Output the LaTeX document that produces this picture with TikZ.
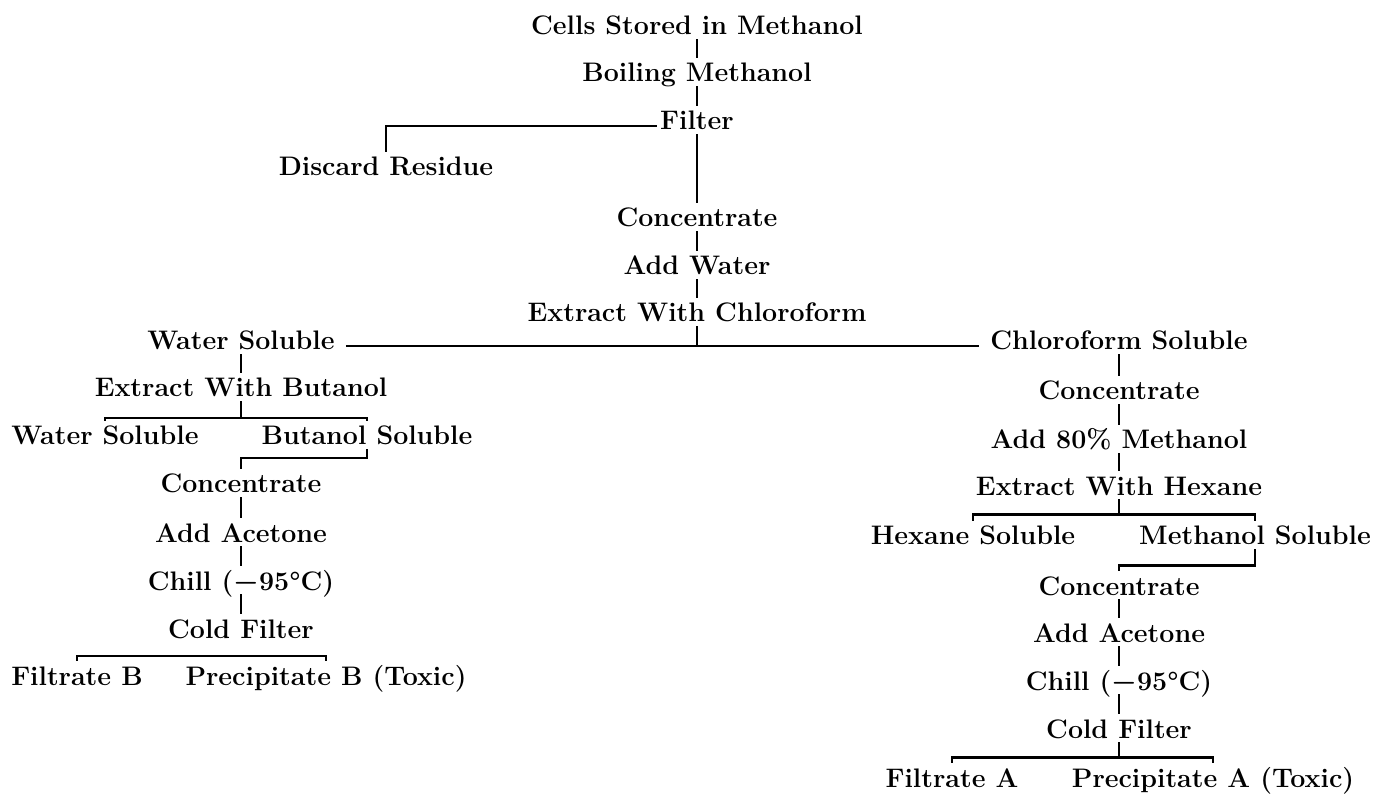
\documentclass[tikz,border=0pt]{standalone}
\usepackage{fontspec}
\begin{document}
\begin{tikzpicture}[x=0.5pt, y=-0.5pt,
    stage/.style={anchor=base, inner sep=0pt, inner xsep=1.5pt,
      text height=12pt, text depth=2pt,
      font=\fontsize{13.4}{15}\selectfont\bfseries},
    link/.style={line width=1.1pt}]
  \useasboundingbox (0,0) rectangle (1384,795);
  \def\chill{Chill ({\boldmath$-$}95\textdegree C)}

  % Main column
  \node[stage] (cells)  at (697,35)  {Cells Stored in Methanol};
  \node[stage] (boil)   at (697,82)  {Boiling Methanol};
  \node[stage] (filt)   at (697,130) {Filter};
  \node[stage] (disc)   at (386,176) {Discard Residue};
  \node[stage] (concM)  at (697,227) {Concentrate};
  \node[stage] (water)  at (697,275) {Add Water};
  \node[stage] (extC)   at (697,322) {Extract With Chloroform};

  % Water soluble branch
  \node[stage] (wsolA)  at (241,350) {Water Soluble};
  \node[stage] (extB)   at (241,397) {Extract With Butanol};
  \node[stage] (wsolB)  at (105,445) {Water Soluble};
  \node[stage] (bsol)   at (367,445) {Butanol Soluble};
  \node[stage] (concB)  at (241,493) {Concentrate};
  \node[stage] (aceB)   at (241,542) {Add Acetone};
  \node[stage] (chB)    at (241,590) {\chill};
  \node[stage] (cfB)    at (241,638) {Cold Filter};
  \node[stage] (filB)   at (77,685)  {Filtrate B};
  \node[stage] (preB)   at (326,685) {Precipitate B (Toxic)};

  % Chloroform soluble branch
  \node[stage] (csol)   at (1119,350) {Chloroform Soluble};
  \node[stage] (concA)  at (1119,400) {Concentrate};
  \node[stage] (meth)   at (1119,449) {Add 80\% Methanol};
  \node[stage] (extH)   at (1119,495) {Extract With Hexane};
  \node[stage] (hsol)   at (973,545)  {Hexane Soluble};
  \node[stage] (msol)   at (1255,545) {Methanol Soluble};
  \node[stage] (concA2) at (1119,595) {Concentrate};
  \node[stage] (aceA)   at (1119,642) {Add Acetone};
  \node[stage] (chA)    at (1119,690) {\chill};
  \node[stage] (cfA)    at (1119,738) {Cold Filter};
  \node[stage] (filA)   at (952,787)  {Filtrate A};
  \node[stage] (preA)   at (1213,787) {Precipitate A (Toxic)};

  % Main column links
  \draw[link] (cells.south) -- (boil.north);
  \draw[link] (boil.south) -- (filt.north);
  \draw[link] (filt.mid west) -| (disc.north);
  \draw[link] (filt.south) -- (concM.north);
  \draw[link] (concM.south) -- (water.north);
  \draw[link] (water.south) -- (extC.north);
  \draw[link, shorten <=4pt, shorten >=4pt] (wsolA.mid east) -- (csol.mid west);
  \draw[link] (extC.south) -- (extC.south |- csol.mid west);

  % Left links
  \draw[link] (wsolA.south) -- (extB.north);
  \draw[link] (extB.south) -- ++(0,17) -| (wsolB.north)
              (extB.south) ++(0,17) -| (bsol.north);
  \draw[link] (bsol.south) -- ++(0,9) -| (concB.north);
  \draw[link] (concB.south) -- (aceB.north);
  \draw[link] (aceB.south) -- (chB.north);
  \draw[link] (chB.south) -- (cfB.north);
  \draw[link] (filB.north) -- ++(0,-5) -| (preB.north);

  % Right links
  \draw[link] (csol.south) -- (concA.north);
  \draw[link] (concA.south) -- (meth.north);
  \draw[link] (meth.south) -- (extH.north);
  \draw[link] (extH.south) -- ++(0,15) -| (hsol.north)
              (extH.south) ++(0,15) -| (msol.north);
  \draw[link] (msol.south) -- ++(0,16) -| (concA2.north);
  \draw[link] (concA2.south) -- (aceA.north);
  \draw[link] (aceA.south) -- (chA.north);
  \draw[link] (chA.south) -- (cfA.north);
  \draw[link] (cfA.south) -- ++(0,15) -| (filA.north)
              (cfA.south) ++(0,15) -| (preA.north);
\end{tikzpicture}
\end{document}
